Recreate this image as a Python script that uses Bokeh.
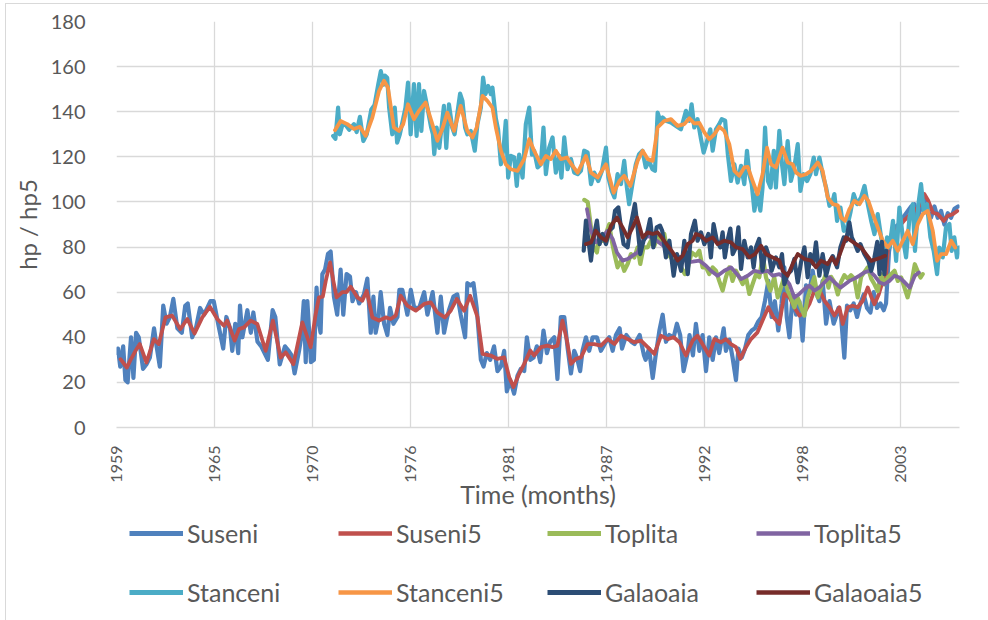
import math
from bokeh.plotting import figure
from bokeh.models import Legend, LegendItem, FixedTicker, Range1d
from bokeh.layouts import column
from bokeh.embed import file_html
from bokeh.resources import INLINE

# x = months since Jan 1959, y = hp
tick_months = [0, 66, 132, 198, 264, 330, 396, 462, 528]
tick_labels = ["1959", "1965", "1970", "1976", "1981", "1987", "1992", "1998", "2003"]

suseni = [(0.5, 33), (1, 35), (2.5, 27), (4.5, 36), (6, 21), (7.5, 20), (9.8, 40), (11.4, 22), (13.2, 42), (15, 40),
          (17.9, 26), (20.2, 28), (22.5, 31), (25.3, 44), (27, 36), (29.2, 27), (31.5, 54), (33.7, 46), (36, 49),
          (38.3, 57), (41, 44), (44, 42), (46.3, 54), (48, 55), (51, 40), (53.5, 44), (56.3, 53), (59, 50),
          (63.3, 56), (65.5, 56), (68.5, 46), (71.9, 35), (74, 49), (76.5, 44), (78, 34), (80, 46), (82, 33),
          (83.2, 54), (84.8, 40), (88.2, 52), (90.5, 42), (92.2, 51), (95, 38), (97.5, 36), (102, 30), (105.2, 52),
          (107, 49), (110, 28), (113.5, 36), (116, 34), (118, 32), (120, 24), (123, 34), (124.5, 40), (126.2, 56),
          (127.5, 29), (128.6, 56), (131, 29), (133, 30), (134.8, 62), (136, 48), (137.5, 42), (138.7, 68),
          (140.5, 70), (142.5, 77), (144.3, 78), (146.5, 58), (148.7, 50), (151, 70), (152.8, 50), (155, 68),
          (157.3, 67), (159, 56), (161.3, 60), (163.5, 55), (166.7, 59), (169, 66), (171.3, 42), (173.1, 58),
          (174.6, 42), (176.4, 48), (178, 60), (180.3, 46), (182.5, 41), (184.3, 53), (186.6, 46), (189.3, 49),
          (190.6, 61), (192.6, 61), (196, 50), (198.3, 61), (200.6, 53), (204, 53), (207.3, 60), (209.5, 50),
          (213, 60), (216.2, 42), (218.5, 58), (220.7, 42), (222.5, 48), (224, 52), (227, 58), (229.6, 59),
          (231.9, 50), (234.9, 40), (236.4, 64), (238.6, 63), (240.5, 64), (242.7, 53), (245.5, 30), (247.3, 27),
          (249.5, 33), (251.8, 30), (254.4, 36), (256.7, 25), (259, 27), (261.2, 34), (263, 16), (265.2, 21),
          (267.9, 15), (270.2, 23), (272.4, 26), (274.7, 25), (276.5, 40), (278.8, 30), (281, 31), (283.2, 36),
          (285.5, 29), (287.7, 43), (290, 33), (292.2, 38), (295, 40), (297.1, 21.5), (299.4, 49), (301.7, 49),
          (304, 35), (306.2, 24), (308.4, 34), (310.2, 31), (312.4, 25), (314, 34), (316.3, 40), (318.5, 34),
          (320.8, 40), (323.7, 40), (326.4, 34), (329.8, 38), (332, 40), (334.3, 34), (336.5, 41), (339, 44),
          (340.6, 35), (343.5, 41), (346.9, 38), (349.1, 37), (352.5, 41), (355.4, 32), (356.5, 30), (358.8, 35),
          (361.3, 22), (363.1, 31), (365.8, 43), (368, 50), (370.2, 38), (372.5, 41), (375.4, 40), (377.6, 46),
          (379.8, 41), (382.1, 25), (384.8, 33), (386.1, 41), (388.4, 32), (390.4, 46), (392.7, 34), (394.9, 41),
          (397.2, 25), (399.4, 40), (401.7, 30), (403.9, 40), (406.1, 33), (409.1, 44), (410.6, 34), (412.9, 39),
          (415.1, 31), (417.4, 21), (419, 35), (421.3, 31), (423.5, 35), (425.7, 41), (428, 43), (430.2, 44),
          (432.4, 47), (434.7, 49), (436.9, 56), (439.2, 65), (441.4, 49), (443.6, 56), (445.9, 43), (448.1, 55),
          (450, 71), (451.6, 49), (453.4, 40), (455.6, 59), (457.9, 50), (460.1, 56), (462.3, 38.5), (464.6, 63),
          (466.9, 60), (469.1, 69.5), (471.3, 60), (473.6, 56), (475.8, 65), (478.1, 46), (480.4, 56), (483.2, 46),
          (484.8, 49), (486.4, 53), (488.2, 49), (490.4, 31), (492.2, 54), (494.4, 52), (496.7, 55), (499, 49),
          (501.2, 55), (503.5, 59), (505.7, 53), (508, 51), (510.2, 60), (512.4, 53), (514.7, 55), (517, 52),
          (518.5, 55), (520.5, 78), (523, 88), (527, 90), (531, 94), (535.4, 98), (537.6, 99), (539.9, 93),
          (542.1, 98), (544.3, 102), (546.6, 96), (548.8, 93), (551.1, 98), (553.3, 93), (555.6, 96), (557.8, 90),
          (560.1, 95), (562.3, 93), (564.6, 97), (567, 98)]

suseni5 = [(2.7, 30.3), (7, 26.6), (9.4, 29.9), (12.8, 34), (15.7, 37), (20.2, 28.8), (25.2, 39.2), (28.5, 37),
           (33, 48.8), (37.5, 49.6), (43, 43.6), (47.7, 48.1), (52.6, 41.7), (57.8, 48.8), (62.9, 53.5), (67.9, 48.1),
           (72.4, 45.1), (74.6, 47.4), (79.6, 38.5), (82.5, 43.6), (85.9, 44.4), (90.4, 47.4), (94.9, 45.9),
           (100.5, 34), (105.4, 47.4), (110.6, 31), (114, 33.3), (119.2, 28.1), (125.2, 46.6), (130.8, 35.6),
           (134.2, 50.3), (136.4, 57.7), (139, 58), (141, 65), (143.9, 73.2), (146.1, 65), (148.3, 57.7),
           (152.2, 60), (155, 60), (157.8, 62.4), (162.3, 57.7), (165.6, 56.2), (168.6, 60.6), (172.4, 48.8),
           (176.9, 47.4), (181.4, 48.8), (184.8, 48.1), (188.1, 49.6), (191.5, 58.4), (196, 54), (201.6, 51.8),
           (207.3, 54.8), (211.7, 55.5), (216.2, 51), (221.2, 48.8), (225.2, 51.8), (229.3, 57), (234.2, 51.8),
           (238.3, 58.4), (241, 53.3), (243.2, 49), (246.6, 32.6), (252.2, 31.9), (256.7, 30.4), (261.2, 31.1),
           (264.6, 22.3), (267.5, 17.9), (271.3, 23.8), (274.7, 28.2), (278.8, 34.1), (281.4, 31.9), (285.9, 35.6),
           (290.4, 36.3), (293.8, 35.6), (297.1, 36.3), (300.5, 47.4), (303.5, 38.5), (306.2, 28.2), (309.5, 30.4),
           (312.9, 31.1), (317.4, 37), (321.9, 37), (326.4, 36.3), (330.9, 39.2), (335.5, 37), (339.9, 40.7),
           (344.4, 39.2), (348.9, 37.8), (353.4, 38.5), (357.9, 35.6), (362.4, 32.6), (366.9, 40.7), (371.4, 39.2),
           (375.4, 40), (379.3, 37.8), (383.7, 31.9), (388.2, 38.5), (391.5, 40.7), (396.1, 35.6), (399.4, 31.9),
           (402.8, 39.2), (407.3, 37.8), (410.6, 39.2), (414, 37), (417.4, 35.6), (420.3, 30.4), (424.1, 35.6),
           (427.5, 39.2), (431.9, 42.2), (435.3, 47.4), (439.2, 53.3), (442.8, 48.8), (446.6, 45.9), (450, 59.2),
           (453.4, 57.7), (456.7, 53.3), (460.1, 49.6), (463.5, 51), (466.9, 54.8), (470.2, 60.7), (473.6, 61),
           (477, 56.2), (480.4, 53.3), (483.7, 49.6), (487.1, 53.3), (489.3, 45.9), (492.7, 53.3), (496, 54),
           (499.4, 53.3), (502.8, 56.2), (506.2, 62.1), (508.5, 58), (510.7, 54.7), (513.6, 59), (516.3, 65),
           (518.6, 68), (519.7, 78.3), (521.5, 84), (526, 88), (531, 92), (537.6, 96), (541, 98.3), (544.3, 103.5),
           (547, 100.5), (550, 95.3), (553.3, 94.6), (557.4, 91.6), (560, 93.8), (563.5, 94.6), (566.5, 96)]

toplita = [(315.2, 100.9), (317.5, 100), (319.7, 88.7), (321.5, 79.9), (323.7, 77.6), (325.2, 84.3), (327.5, 82.8),
           (329.8, 85.8), (332, 90.2), (333.7, 82.8), (335.5, 76.9), (337.6, 71), (339.9, 74), (342.1, 69.5),
           (344.4, 72.5), (346.6, 76.9), (348.9, 75.4), (351.1, 79.9), (352.9, 72.5), (355.1, 79.9), (357.9, 79.9),
           (360.1, 82.8), (362.4, 80.6), (364.6, 84.3), (366.9, 82.8), (369.1, 85.8), (371.4, 76.9), (373.6, 75.4),
           (375.9, 72.5), (378.1, 74), (380.4, 71), (383, 68), (385.1, 71), (387.5, 77.6), (390.4, 76.2),
           (392.7, 78.4), (394.9, 71), (397.2, 71), (399.4, 68), (401.7, 71), (403.9, 69.5), (406.1, 65),
           (408.4, 60.7), (410.6, 66.6), (412.9, 71), (415.1, 65), (417.4, 69.5), (419.6, 66.6), (421.9, 63.6),
           (424.1, 66.6), (426.4, 59.2), (428.6, 63.6), (430.9, 68), (433.1, 66.6), (435.5, 76.2), (437.6, 66.6),
           (440.6, 60.7), (443.2, 66.6), (445.5, 57.7), (447.7, 62.1), (449.9, 66.6), (452.2, 60.7), (454.4, 57.7),
           (456.7, 53.3), (458.9, 57.7), (461.2, 53.3), (463.5, 49.6), (465.7, 57.7), (467.9, 62.1), (470.2, 66.6),
           (472.5, 57.7), (474.7, 62.1), (477.9, 68), (479.7, 62), (481.5, 66.8), (483.7, 64.5), (486, 59),
           (488.2, 64.5), (490.4, 67.5), (492.7, 66), (494.9, 67.5), (497.2, 66), (499.4, 57.7), (501.7, 66.8),
           (504, 69), (506.2, 71), (508.5, 66), (510.7, 63.5), (512.9, 60.5), (515.2, 68), (517.4, 63.5),
           (519.7, 66.5), (521.9, 68), (524.2, 69.5), (526.4, 65), (528.7, 66.5), (530.9, 62), (533, 57.7),
           (535.4, 63.5), (537.9, 72.4), (539.7, 69.5), (541.7, 66.5), (543.2, 68)]

toplita5 = [(317, 96.8), (319.7, 87.2), (323, 82.1), (326.4, 83.6), (330.9, 87.2), (334.3, 83.6), (337.2, 77.6),
            (341, 74), (344.4, 74.7), (347.8, 76.2), (351.1, 77.6), (354.5, 82.8), (357.9, 85), (362.4, 83.6),
            (366.9, 81.3), (371.4, 79.1), (375.9, 76.2), (380.4, 75.4), (384.9, 73.2), (388.2, 73.5), (392.7, 74),
            (397.2, 71.7), (400.5, 69.5), (405, 67.3), (409.5, 69.5), (414, 71), (417.4, 68.5), (420.8, 65.8),
            (425.3, 67.3), (429.8, 69.5), (434.3, 68.8), (438.8, 69.5), (442.1, 67.3), (446.6, 68), (449.9, 66.6),
            (453.4, 63.6), (456.7, 57.7), (460.1, 59.2), (463.5, 61.4), (466.9, 62.9), (470.2, 60.7), (473.6, 62.1),
            (477, 64.3), (480.4, 66.6), (483.7, 64.4), (487.8, 62), (490.9, 63.5), (493.8, 65), (497.2, 66),
            (500.6, 67.3), (504, 68.8), (507.3, 69.5), (510.7, 67.3), (514.1, 64.3), (517.4, 63.5), (520.8, 65),
            (524.2, 67.3), (527.5, 66.5), (531.2, 64.3), (534.5, 62), (537.9, 67.3), (540.6, 68.7)]

stanceni = [(146, 129.3), (147.5, 128), (149.3, 141.8), (150.5, 130), (152.3, 134.5), (154.5, 134), (156.8, 132),
            (160, 134.5), (161.8, 131), (164, 137.7), (166.3, 127), (168.6, 130), (171.7, 141), (173.9, 143),
            (176.4, 152.2), (178.1, 158), (179.9, 152), (180.8, 156), (182.4, 155), (183.7, 141.8), (185.8, 130),
            (187.5, 141.8), (189.1, 126.3), (190.9, 130), (193.2, 137), (194.7, 141.8), (196.4, 152.9), (198.2, 130),
            (200.4, 152.2), (202.2, 129.3), (203.8, 152.2), (205.4, 131.5), (207.2, 149.2), (209.5, 141.8),
            (212, 133), (213.2, 130), (214.1, 121.2), (215.7, 133), (217.5, 124), (220.6, 142.6), (222.2, 124),
            (224, 143.3), (226.2, 133), (227.8, 130), (229.6, 139), (231.5, 148), (233.1, 144.8), (234.9, 133),
            (236.4, 130), (238.7, 131.5), (241.4, 122.7), (243.2, 134.5), (245.5, 141.8), (247, 155.1),
            (248.6, 147.8), (250.4, 151.4), (252.2, 147.8), (253.3, 150.7), (255.6, 137), (257.1, 132.2),
            (259, 116.7), (260.8, 124), (262.3, 136), (263.9, 110.8), (265.7, 120.4), (268, 119.7), (269.7, 107.1),
            (271.3, 121), (273.6, 110.8), (275.8, 134.5), (278.1, 141.8), (279.9, 121), (281.4, 122.7),
            (283.7, 115.3), (285.9, 116.7), (287.7, 133), (289.3, 112.3), (291.5, 124), (293.8, 128.6), (296, 113),
            (298.3, 120.4), (299.8, 110.8), (301.7, 128.6), (303.9, 114.5), (306.2, 119), (308.4, 113),
            (310.7, 112.3), (312.9, 113.8), (315.1, 122.7), (317.4, 122), (319.7, 107.9), (321.9, 113),
            (324.6, 109.3), (327.1, 113.8), (329.8, 124.1), (331.4, 110.8), (333.7, 104.9), (335.5, 102),
            (337.6, 112.3), (339.9, 107.9), (342.1, 118.2), (343.9, 106.4), (345.4, 99), (347.6, 107.9),
            (349.9, 116.7), (352.1, 121.2), (354.4, 122.7), (356.6, 115.3), (358.8, 118.2), (361.1, 114.5),
            (362.8, 113.8), (364.6, 139.6), (366.4, 136), (368, 137.4), (370.2, 136), (373.6, 135.2),
            (377, 133.7), (380.3, 132.2), (383.7, 140.4), (386, 136), (387.5, 143.3), (389.3, 133), (391.5, 136.7),
            (393.8, 128), (395.6, 121.9), (397.9, 127), (400.1, 132.2), (401.7, 122.7), (403.9, 132.2),
            (406.1, 134.5), (407.8, 136.7), (410.1, 136), (411.9, 121.2), (414, 109.3), (416.3, 116.7),
            (418.5, 108.6), (420.8, 116), (423, 107.9), (424.8, 122.7), (426.4, 112.3), (428, 107.9), (429.8, 96.1),
            (431.6, 104.1), (433.8, 96.1), (435.3, 106.4), (437, 133), (438.9, 109.3), (440.7, 106.4),
            (442.9, 122.7), (444.3, 106.4), (446.6, 131.5), (448.4, 116.7), (450, 107.9), (452.2, 127),
            (454.4, 109.3), (456.7, 115.3), (459, 125.6), (460.8, 104.9), (463, 112.3), (465.3, 109.3),
            (467.5, 112.3), (469.8, 119.7), (471.3, 112.3), (473.6, 119.7), (475.8, 112.3), (478.1, 106.4),
            (480.4, 98.3), (482.6, 100.5), (483.7, 103.5), (485.5, 91.6), (487.8, 97.5), (490, 87.2),
            (492.2, 88.7), (494.5, 95.3), (496.7, 103.5), (499, 99), (501.7, 102), (504, 107.1), (506.2, 99),
            (508.5, 91.6), (510.7, 85.7), (512.9, 94.6), (515.2, 84.3), (517.4, 73.9), (519.2, 84.3),
            (520.8, 79.8), (523.2, 91.6), (525.3, 73.9), (527.5, 97.5), (529.8, 84.3), (532, 75.4), (534.3, 93.1),
            (536.5, 99), (538, 78.3), (540.3, 99), (542.1, 107.9), (543.9, 96), (546.1, 99), (548.4, 84.3),
            (550.6, 78.3), (552.9, 68), (554.4, 79.8), (556.7, 75.4), (558.9, 88.7), (561.2, 90.2), (562.7, 78.3),
            (564.5, 84.3), (566.3, 75.4), (567.9, 79.8)]

stanceni5 = [(147.2, 131.8), (151, 135.9), (155.5, 134.5), (160, 132.3), (164, 133.3), (167.9, 129.3),
             (172.4, 137.4), (176.9, 149.2), (180.2, 153.7), (182.9, 150.7), (186.9, 133), (190.3, 131.5),
             (193.2, 134.5), (196.4, 143.3), (200.4, 136.7), (203.8, 140.4), (208.3, 144.1), (212.8, 134.5),
             (216.2, 127.1), (219.5, 132.3), (222.9, 139.6), (227.4, 131.5), (231.9, 142.6), (236.4, 131.5),
             (239.8, 128.6), (242.7, 133), (246.6, 147), (249.9, 144.8), (253.3, 141.8), (255.6, 133), (259, 122.7),
             (262.3, 116.7), (265.7, 114.5), (270.2, 113.8), (274.7, 119), (278.1, 127.8), (281.4, 122.7),
             (285.9, 116.7), (289.3, 120.4), (292.7, 119), (296, 122.7), (299.4, 119), (303.5, 119.7), (307.3, 116),
             (310.7, 113), (316.3, 120.4), (319.7, 113), (324.2, 110.8), (329.8, 116.7), (335, 104.1),
             (338.8, 109.3), (342.1, 111.6), (346.2, 107.1), (351.1, 118.2), (354.5, 122.7), (357.9, 119),
             (361.3, 118.2), (364.6, 133), (369.1, 135.9), (373.6, 136.7), (378.1, 133.7), (382.6, 134.5),
             (386, 137.1), (389.3, 134.8), (392.7, 135), (396.1, 130.8), (399.4, 127.8), (402.8, 130),
             (406.2, 133.3), (409.5, 131.5), (412.9, 125.6), (416.3, 113.8), (419.6, 111.6), (423, 115.3),
             (425.3, 115.5), (428.6, 109.3), (431.9, 103.4), (435.3, 112.3), (438.3, 124.1), (441, 116.7),
             (444.3, 115.3), (448.8, 124.1), (452.2, 117.5), (455.6, 116.7), (457.9, 113), (461.2, 111.6),
             (464.6, 112.3), (468, 113.8), (472.5, 117.5), (475.8, 113.8), (479.2, 102), (482.6, 99), (486, 98.5),
             (488.2, 93.1), (490.9, 91.6), (493.8, 96.8), (497.2, 100.5), (500.6, 99), (504, 102.7), (506.6, 100.5),
             (509.6, 94.6), (512.9, 88.7), (516.3, 82.8), (519.7, 79.8), (523, 82.8), (526.4, 78.3), (529.8, 82.8),
             (533.1, 87.2), (536.5, 81.3), (539.9, 90.2), (543.2, 94.6), (546.6, 96), (550, 87.2), (552.9, 73.9),
             (555.6, 76.9), (559, 76.9), (562.4, 82.8), (565.1, 79.8)]

galaoaia = [(314.8, 78.4), (316.3, 91.7), (318, 82.8), (319.7, 74), (321.5, 84.3), (323.7, 91.7), (325.5, 81.3),
            (327.5, 85.8), (329.8, 81.3), (332, 87.2), (334.3, 88.7), (335.9, 96.1), (338.1, 97.6), (339.9, 88.7),
            (341.7, 81.3), (344.4, 79.9), (346.2, 88.7), (349.3, 99.1), (351.1, 88.7), (352.9, 76.9), (355.1, 82.8),
            (357.4, 85.8), (359.5, 92.4), (361.7, 79.9), (364, 88.7), (366.2, 89.5), (367.7, 87.2), (370.2, 75.4),
            (372.5, 82.8), (375.4, 67.3), (377.6, 76.9), (380.4, 69.5), (382.6, 82.8), (384.9, 68), (387.1, 85.8),
            (389.7, 91.7), (391.5, 82.8), (393.8, 86.5), (396.1, 81.3), (398.8, 85.8), (400.5, 75.4), (402.3, 90.2),
            (404.5, 82.8), (406.8, 79.9), (408.4, 86.5), (409.9, 75.4), (411.7, 82.8), (413.6, 88.2), (415.2, 76.9),
            (417.4, 79.9), (419, 88.7), (420.8, 70.3), (423, 82.8), (425.3, 75.4), (427.5, 79.9), (429.3, 71),
            (430.9, 79.9), (433, 83.6), (435.3, 69.5), (437.6, 79.9), (439.9, 75.4), (441.4, 69.5), (444.3, 75.4),
            (446.6, 71), (448.4, 76.9), (450, 63.6), (452.2, 68), (454.5, 69.5), (456.7, 74.7), (459, 64.3),
            (461.2, 73.2), (463.5, 79.9), (465.7, 66.6), (467.5, 76.9), (469.5, 72.5), (471.3, 82.1), (473.6, 67.3),
            (475.8, 76.9), (478.1, 67.3), (480.4, 73.2), (482.6, 76), (485.5, 71), (487.8, 80), (490, 84.3),
            (491.6, 82.8), (493.8, 90.9), (495.4, 84.3), (497.6, 81.3), (499.4, 78.3), (501.2, 81.3), (503.9, 76.9),
            (506.6, 73.9), (508.5, 69.5), (510.7, 75.4), (512.6, 82.3), (514.1, 68), (515.7, 82.3), (517.4, 68),
            (518.6, 78.3)]

galaoaia5 = [(316.3, 81.3), (319.7, 82), (323, 87.2), (326.4, 84.3), (329.8, 82.8), (333.2, 89.5), (337.2, 93.1),
             (341, 88.7), (344.4, 84.3), (347.8, 88.7), (350.7, 93.1), (354.5, 84.3), (357.9, 86.5), (361.3, 85.8),
             (364.6, 86.5), (368, 83.6), (371.4, 80.6), (374.8, 77.6), (378.1, 74), (381.5, 76.2), (384.8, 81.3),
             (388.2, 82.8), (390.4, 85.8), (393.8, 85), (397.2, 82.8), (401.7, 84.3), (405, 81.3), (409.5, 82.8),
             (414, 82.1), (417.4, 79.9), (421.9, 79.1), (426.4, 75.4), (430.2, 76.9), (434.3, 80.6), (437.6, 76.9),
             (442.1, 75.4), (446.6, 74), (448.8, 69.5), (452.2, 67.3), (455.6, 72.5), (459, 76.9), (463.5, 74.7),
             (468, 74), (471.3, 71), (474.7, 74), (479.2, 72.5), (482, 75.4), (484.8, 72.4), (488.2, 78.3),
             (491.5, 84.3), (494.9, 82.8), (498.3, 81.3), (501.7, 79.8), (505, 76.9), (508.4, 73.9), (511.8, 74.6),
             (515.2, 75.4), (517.9, 76.1)]

series_names = ["Suseni", "Suseni5", "Toplita", "Toplita5", "Stanceni", "Stanceni5", "Galaoaia", "Galaoaia5"]
series_data = [suseni, suseni5, toplita, toplita5, stanceni, stanceni5, galaoaia, galaoaia5]
series_colors = ["#4F81BD", "#C0504D", "#9BBB59", "#8064A2", "#4BACC6", "#F79646", "#2C4D75", "#772C2A"]
series_widths = [4.2, 3.8, 4.2, 3.8, 4.2, 3.8, 4.2, 3.8]

FONT = "Lato"
TXT = "#595959"
GRID = "#D9D9D9"
W = 988
TOP_H = 513
LEG_H = 107

p = figure(width=W, height=TOP_H, output_backend="svg", toolbar_location=None,
           x_range=Range1d(0, 568), y_range=Range1d(0, 180),
           min_border_left=116, min_border_right=29, min_border_top=21, min_border_bottom=86)
p.outline_line_color = None
p.background_fill_color = "white"
p.border_fill_color = "white"

for name, data, col, w in zip(series_names, series_data, series_colors, series_widths):
    xs = [d[0] for d in data]
    ys = [d[1] for d in data]
    p.line(xs, ys, line_color=col, line_width=w, line_join="round", line_cap="round")

p.xaxis.ticker = FixedTicker(ticks=tick_months)
p.xaxis.major_label_overrides = {m: lab for m, lab in zip(tick_months, tick_labels)}
p.xaxis.major_label_orientation = math.pi / 2
p.xaxis.axis_line_color = GRID
p.xaxis.axis_line_width = 1.3
p.xaxis.major_tick_line_color = None
p.xaxis.minor_tick_line_color = None
p.xaxis.major_label_standoff = 12
p.xaxis.major_label_text_font = FONT
p.xaxis.major_label_text_font_size = "16px"
p.xaxis.major_label_text_color = TXT
p.xaxis.axis_label = "Time (months)"
p.xaxis.axis_label_text_font = FONT
p.xaxis.axis_label_text_font_size = "25px"
p.xaxis.axis_label_text_font_style = "normal"
p.xaxis.axis_label_text_color = TXT
p.xaxis.axis_label_standoff = -7

p.yaxis.ticker = FixedTicker(ticks=list(range(0, 181, 20)))
p.yaxis.axis_line_color = None
p.yaxis.major_tick_line_color = None
p.yaxis.minor_tick_line_color = None
p.yaxis.major_label_standoff = 25
p.yaxis.major_label_text_font = FONT
p.yaxis.major_label_text_font_size = "20px"
p.yaxis.major_label_text_color = TXT
p.yaxis.axis_label = "hp / hp5"
p.yaxis.axis_label_text_font = FONT
p.yaxis.axis_label_text_font_size = "24px"
p.yaxis.axis_label_text_font_style = "normal"
p.yaxis.axis_label_text_color = TXT
p.yaxis.axis_label_standoff = 6

p.xgrid.grid_line_color = GRID
p.xgrid.grid_line_width = 1.3
p.ygrid.grid_line_color = GRID
p.ygrid.grid_line_width = 1.3

# legend panel below the chart (its frame is aligned with the chart frame: x 116..959)
lg = figure(width=W, height=LEG_H, output_backend="svg", toolbar_location=None,
            x_range=Range1d(0, 1), y_range=Range1d(0, 1),
            min_border_left=116, min_border_right=29, min_border_top=0, min_border_bottom=0)
lg.axis.visible = False
lg.grid.visible = False
lg.outline_line_color = None
lg.border_fill_color = "white"
lg.background_fill_color = "white"

items = []
for name, col, w in zip(series_names, series_colors, series_widths):
    r = lg.line([5, 6], [5, 6], line_color=col, line_width=w + 0.8)
    items.append(LegendItem(label=name, renderers=[r]))

legend = Legend(items=items, orientation="horizontal", ncols=4, location=(13, 8))
legend.glyph_width = 54
legend.glyph_height = 40
legend.label_standoff = 4
legend.label_width = 132
legend.spacing = 19
legend.padding = 0
legend.margin = 0
legend.border_line_color = None
legend.background_fill_alpha = 0
legend.label_text_font = FONT
legend.label_text_font_size = "25px"
legend.label_text_color = TXT
lg.add_layout(legend, "center")

layout = column(p, lg, spacing=0,
                stylesheets=[":host { position: relative; }"
                             ":host::after { content: ''; position: absolute; left: 5px; top: 3px; "
                             "width: 1200px; height: 1200px; border-left: 1.3px solid #D9D9D9; "
                             "border-top: 1.3px solid #D9D9D9; pointer-events: none; z-index: 5; }"])

open("out.html", "w").write(file_html(layout, INLINE))
